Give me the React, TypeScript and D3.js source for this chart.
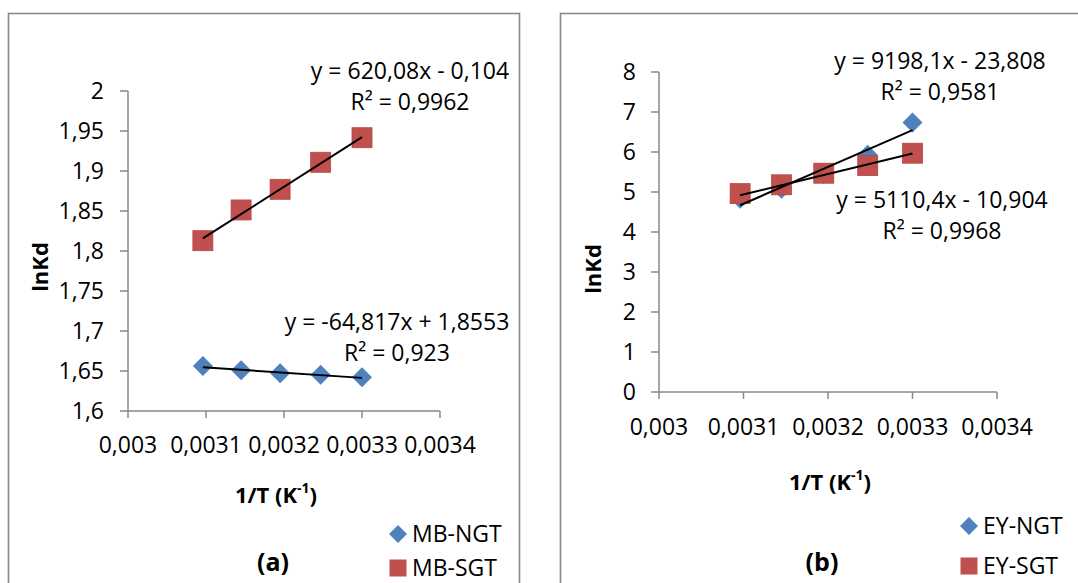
import React from "react";
import * as d3 from "d3";

const xValues = [0.003096, 0.003145, 0.003195, 0.003247, 0.0033];
const xTicks = [0.003, 0.0031, 0.0032, 0.0033, 0.0034];
const xTickLabels = ["0,003", "0,0031", "0,0032", "0,0033", "0,0034"];

const mbNgt = [1.6563, 1.6509, 1.6471, 1.6454, 1.6421];
const mbSgt = [1.8129, 1.8513, 1.8771, 1.9109, 1.9416];
const eyNgt = [4.83, 5.08, 5.45, 5.93, 6.74];
const eySgt = [4.96, 5.18, 5.47, 5.66, 5.97];

const yTicksA = [1.6, 1.65, 1.7, 1.75, 1.8, 1.85, 1.9, 1.95, 2];
const yTickLabelsA = ["1,6", "1,65", "1,7", "1,75", "1,8", "1,85", "1,9", "1,95", "2"];
const yTicksB = [0, 1, 2, 3, 4, 5, 6, 7, 8];
const yTickLabelsB = ["0", "1", "2", "3", "4", "5", "6", "7", "8"];

const fitMbNgt = { slope: -64.817, intercept: 1.8553, eq: "y = -64,817x + 1,8553", r2: "R² = 0,923" };
const fitMbSgt = { slope: 620.08, intercept: -0.104, eq: "y = 620,08x - 0,104", r2: "R² = 0,9962" };
const fitEyNgt = { slope: 9198.1, intercept: -23.808, eq: "y = 9198,1x - 23,808", r2: "R² = 0,9581" };
const fitEySgt = { slope: 5110.4, intercept: -10.904, eq: "y = 5110,4x - 10,904", r2: "R² = 0,9968" };

const BLUE = "#4F81BD";
const RED = "#C0504D";
const AXIS = "#898989";
const FONT = "'Open Sans', sans-serif";
const FS = 23;

type Fit = { slope: number; intercept: number; eq: string; r2: string };

function Diamond({ cx, cy, r }: { cx: number; cy: number; r: number }) {
  return <path d={`M${cx},${cy - r}L${cx + r},${cy}L${cx},${cy + r}L${cx - r},${cy}Z`} fill={BLUE} />;
}
function Square({ cx, cy, s }: { cx: number; cy: number; s: number }) {
  return <rect x={cx - s / 2} y={cy - s / 2} width={s} height={s} fill={RED} stroke="#B54744" strokeWidth={0.8} />;
}

function Panel(props: {
  xRange: [number, number];
  yDomain: [number, number];
  yRange: [number, number];
  yTicks: number[];
  yLabels: string[];
  yLabelX: number;
  xLabelY: number;
  ngt: number[];
  sgt: number[];
  fitN: Fit;
  fitS: Fit;
  eqN: [number, number];
  eqS: [number, number];
  yTitle: [number, number];
  xTitle: [number, number];
  legend: [number, number, number];
  names: [string, string];
  tag: string;
  tagPos: [number, number];
}) {
  const x = d3.scaleLinear().domain([0.003, 0.0034]).range(props.xRange);
  const y = d3.scaleLinear().domain(props.yDomain).range(props.yRange);
  const x0 = props.xRange[0];
  const y0 = props.yRange[0];
  const fitPath = (f: Fit) => {
    const xs = [xValues[0], xValues[xValues.length - 1]];
    return d3
      .line<number>()
      .x((v) => x(v))
      .y((v) => y(f.slope * v + f.intercept))(xs) as string;
  };
  return (
    <g>
      <line x1={x0} y1={props.yRange[1]} x2={x0} y2={y0} stroke={AXIS} strokeWidth={1.5} />
      <line x1={x0} y1={y0} x2={props.xRange[1]} y2={y0} stroke={AXIS} strokeWidth={1.5} />
      {props.yTicks.map((t, i) => (
        <g key={"yt" + i}>
          <line x1={x0 - 8} x2={x0} y1={y(t)} y2={y(t)} stroke={AXIS} strokeWidth={1.5} />
          <text x={props.yLabelX} y={y(t)} dy="0.36em" textAnchor="end" fontSize={FS} fontFamily={FONT} fill="#000">
            {props.yLabels[i]}
          </text>
        </g>
      ))}
      {xTicks.map((t, i) => (
        <g key={"xt" + i}>
          <line x1={x(t)} x2={x(t)} y1={y0} y2={y0 + 7} stroke={AXIS} strokeWidth={1.5} />
          <text x={x(t)} y={props.xLabelY} dy="0.36em" textAnchor="middle" fontSize={FS} fontFamily={FONT} fill="#000">
            {xTickLabels[i]}
          </text>
        </g>
      ))}
      {xValues.map((v, i) => (
        <Diamond key={"d" + i} cx={x(v)} cy={y(props.ngt[i])} r={10} />
      ))}
      {xValues.map((v, i) => (
        <Square key={"s" + i} cx={x(v)} cy={y(props.sgt[i])} s={20} />
      ))}
      <path d={fitPath(props.fitN)} stroke="#000" strokeWidth={2} fill="none" />
      <path d={fitPath(props.fitS)} stroke="#000" strokeWidth={2} fill="none" />
      <text x={props.eqN[0]} y={props.eqN[1]} dy="0.36em" textAnchor="middle" fontSize={FS} fontFamily={FONT}>
        {props.fitN.eq}
      </text>
      <text x={props.eqN[0]} y={props.eqN[1] + 31} dy="0.36em" textAnchor="middle" fontSize={FS} fontFamily={FONT}>
        {props.fitN.r2}
      </text>
      <text x={props.eqS[0]} y={props.eqS[1]} dy="0.36em" textAnchor="middle" fontSize={FS} fontFamily={FONT}>
        {props.fitS.eq}
      </text>
      <text x={props.eqS[0]} y={props.eqS[1] + 31} dy="0.36em" textAnchor="middle" fontSize={FS} fontFamily={FONT}>
        {props.fitS.r2}
      </text>
      <text
        transform={`translate(${props.yTitle[0]},${props.yTitle[1]}) rotate(-90)`}
        dy="0.36em"
        textAnchor="middle"
        fontSize={22}
        fontWeight="bold"
        fontFamily={FONT}
      >
        lnKd
      </text>
      <text x={props.xTitle[0]} y={props.xTitle[1]} dy="0.36em" textAnchor="middle" fontSize={22} fontWeight="bold" fontFamily={FONT}>
        1/T (K
        <tspan fontSize={14} dy="-0.7em">
          -1
        </tspan>
        <tspan dy="0.45em">)</tspan>
      </text>
      <Diamond cx={props.legend[0]} cy={props.legend[1]} r={9} />
      <text x={props.legend[0] + 14} y={props.legend[1]} dy="0.36em" fontSize={FS} fontFamily={FONT}>
        {props.names[0]}
      </text>
      <rect x={props.legend[0] - 8.5} y={props.legend[2] - 8.5} width={17} height={17} fill={RED} />
      <text x={props.legend[0] + 14} y={props.legend[2]} dy="0.36em" fontSize={FS} fontFamily={FONT}>
        {props.names[1]}
      </text>
      <text x={props.tagPos[0]} y={props.tagPos[1]} dy="0.36em" textAnchor="middle" fontSize={25} fontWeight="bold" fontFamily={FONT}>
        {props.tag}
      </text>
    </g>
  );
}

export default function App() {
  return (
    <svg width={1078} height={583} style={{ position: "absolute", left: 0, top: 0, background: "#fff" }}>
      <rect x={0} y={0} width={1078} height={583} fill="#fff" />
      <rect x={8.5} y={13.5} width={511} height={620} fill="#fff" stroke={AXIS} strokeWidth={1.6} />
      <rect x={560.5} y={13.5} width={560} height={620} fill="#fff" stroke={AXIS} strokeWidth={1.6} />
      <Panel
        xRange={[128, 440]}
        yDomain={[1.6, 2]}
        yRange={[411, 91]}
        yTicks={yTicksA}
        yLabels={yTickLabelsA}
        yLabelX={104}
        xLabelY={445}
        ngt={mbNgt}
        sgt={mbSgt}
        fitN={fitMbNgt}
        fitS={fitMbSgt}
        eqN={[397, 322]}
        eqS={[410, 71]}
        yTitle={[40, 267]}
        xTitle={[276, 495]}
        legend={[398, 534, 568]}
        names={["MB-NGT", "MB-SGT"]}
        tag="(a)"
        tagPos={[273, 562]}
      />
      <Panel
        xRange={[659, 997]}
        yDomain={[0, 8]}
        yRange={[392, 72]}
        yTicks={yTicksB}
        yLabels={yTickLabelsB}
        yLabelX={636}
        xLabelY={427}
        ngt={eyNgt}
        sgt={eySgt}
        fitN={fitEyNgt}
        fitS={fitEySgt}
        eqN={[940, 61]}
        eqS={[942, 200]}
        yTitle={[593, 269]}
        xTitle={[830, 482]}
        legend={[969, 526, 566]}
        names={["EY-NGT", "EY-SGT"]}
        tag="(b)"
        tagPos={[822, 562]}
      />
    </svg>
  );
}
